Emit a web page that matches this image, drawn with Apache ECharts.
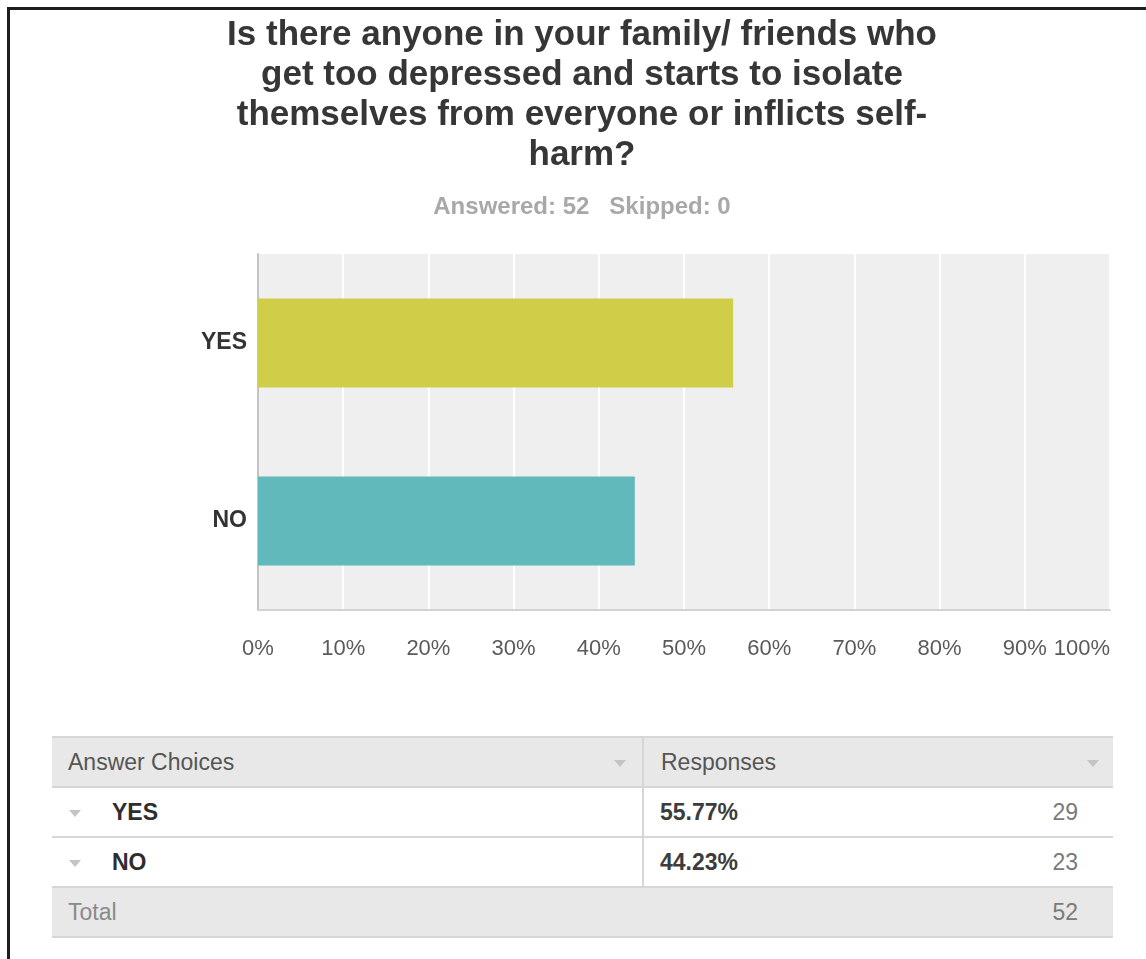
<!DOCTYPE html>
<html>
<head>
<meta charset="utf-8">
<script src="https://cdn.jsdelivr.net/npm/echarts@6/dist/echarts.min.js"></script>
<style>
  html, body { margin: 0; padding: 0; background: #fff; }
  body { width: 1146px; height: 959px; position: relative; overflow: hidden; font-family: "Liberation Sans", Arial, sans-serif; }
  #frame { position: absolute; left: 7px; top: 7px; width: 1160px; height: 970px; border-top: 3px solid #1e1e1e; border-left: 3px solid #1e1e1e; box-sizing: border-box; }
  #chart { position: absolute; left: 0; top: 0; width: 1112px; height: 700px; }
  #table { position: absolute; left: 52px; top: 736px; width: 1061px; }
  .row { position: relative; height: 50px; box-sizing: border-box; border-top: 2px solid #d6d6d6; }
  .row.last { border-bottom: 2px solid #d6d6d6; height: 52px; }
  .grey { background: #e8e8e8; }
  .cell { position: absolute; top: 0; height: 48px; line-height: 48px; font-size: 23px; white-space: nowrap; }
  .divider { position: absolute; left: 590px; top: 0; width: 2px; height: 48px; background: #d6d6d6; }
  .tri { position: absolute; width: 0; height: 0; border-left: 6px solid transparent; border-right: 6px solid transparent; border-top: 7px solid #c4c4c4; }
</style>
</head>
<body>
<div id="frame"></div>
<div id="chart"></div>
<div id="table"></div>
<script>
// ---- data ----
var titleLines = [
  'Is there anyone in your family/ friends who',
  'get too depressed and starts to isolate',
  'themselves from everyone or inflicts self-',
  'harm?'
];
var subtitleText = 'Answered: 52   Skipped: 0';
var categories = ['YES', 'NO'];
var percentValues = [55.77, 44.23];
var responseCounts = [29, 23];
var totalCount = 52;
var barColors = ['#D0CD48', '#62B9BC'];
var tableHeaders = ['Answer Choices', 'Responses'];
var totalLabel = 'Total';

// ---- chart ----
var chart = echarts.init(document.getElementById('chart'), null, { renderer: 'canvas' });
chart.setOption({
  animation: false,
  backgroundColor: 'transparent',
  graphic: [
    {
      type: 'text', x: 582, y: 15,
      style: {
        text: titleLines.join('\n'),
        textAlign: 'center', textVerticalAlign: 'top',
        fontFamily: 'Liberation Sans, Arial, sans-serif',
        fontSize: 35, fontWeight: 'bold', lineHeight: 40,
        fill: '#363636'
      }
    },
    {
      type: 'text', x: 582, y: 207,
      style: {
        text: subtitleText,
        textAlign: 'center', textVerticalAlign: 'middle',
        fontFamily: 'Liberation Sans, Arial, sans-serif',
        fontSize: 24, fontWeight: 'bold',
        fill: '#a8a8a8'
      }
    }
  ],
  grid: {
    left: 258, top: 254, width: 852, height: 356,
    outerBoundsMode: 'none', containLabel: false,
    show: true, backgroundColor: '#efefef', borderWidth: 0
  },
  xAxis: {
    type: 'value', min: 0, max: 100, interval: 10,
    axisLine: { show: true, lineStyle: { color: '#d2d2d2', width: 2 } },
    axisTick: { show: false },
    splitLine: { show: true, lineStyle: { color: '#ffffff', width: 2 } },
    axisLabel: {
      formatter: '{value}%', margin: 28,
      alignMaxLabel: 'right',
      fontFamily: 'Liberation Sans, Arial, sans-serif',
      fontSize: 22, color: '#5a5a5a'
    }
  },
  yAxis: {
    type: 'category', data: categories, inverse: true,
    axisLine: { show: true, lineStyle: { color: '#c4c4c4', width: 2 } },
    axisTick: { show: false },
    splitLine: { show: false },
    axisLabel: {
      margin: 11,
      fontFamily: 'Liberation Sans, Arial, sans-serif',
      fontSize: 23, fontWeight: 'bold', color: '#333333'
    }
  },
  series: [{
    type: 'bar',
    data: percentValues.map(function (v, i) {
      return { value: v, itemStyle: { color: barColors[i] } };
    }),
    barCategoryGap: '50%',
    silent: true
  }]
});

// ---- table ----
var t = document.getElementById('table');
function addRow(cls, inner) {
  var r = document.createElement('div');
  r.className = 'row ' + cls;
  r.innerHTML = inner;
  t.appendChild(r);
}
addRow('grey',
  '<div class="cell" style="left:16px;color:#555;">' + tableHeaders[0] + '</div>' +
  '<div class="tri" style="left:562px;top:22px;"></div>' +
  '<div class="divider"></div>' +
  '<div class="cell" style="left:609px;color:#555;">' + tableHeaders[1] + '</div>' +
  '<div class="tri" style="left:1035px;top:22px;"></div>');
for (var i = 0; i < categories.length; i++) {
  addRow('',
    '<div class="tri" style="left:17px;top:22px;"></div>' +
    '<div class="cell" style="left:60px;color:#2e2e2e;font-weight:bold;">' + categories[i] + '</div>' +
    '<div class="divider"></div>' +
    '<div class="cell" style="left:608px;color:#3c3c3c;font-weight:bold;">' + percentValues[i].toFixed(2) + '%</div>' +
    '<div class="cell" style="right:35px;color:#7a7a7a;">' + responseCounts[i] + '</div>');
}
addRow('grey last',
  '<div class="cell" style="left:16px;color:#8a8a8a;">' + totalLabel + '</div>' +
  '<div class="cell" style="right:35px;color:#7a7a7a;">' + totalCount + '</div>');
</script>
</body>
</html>
